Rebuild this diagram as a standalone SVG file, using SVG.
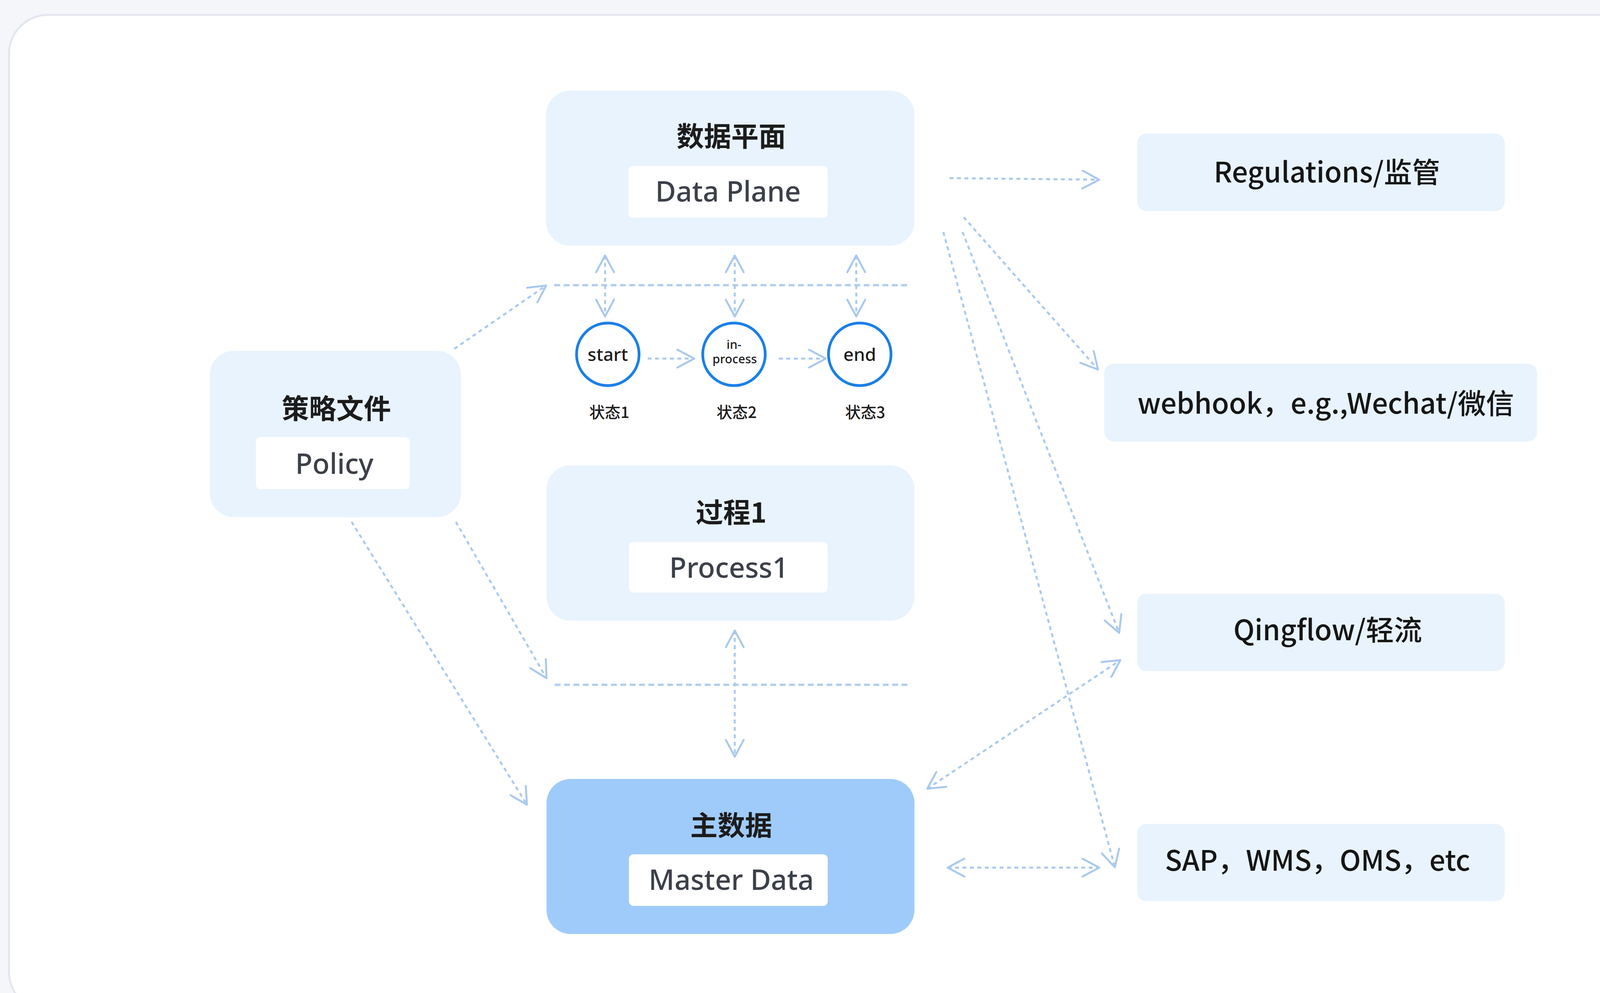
<svg xmlns="http://www.w3.org/2000/svg" width="4447" height="2542" viewBox="0 0 4447 2542">
<style>
.bg{fill:#f4f6fa}
.card{fill:#ffffff;stroke:#e3e6ee;stroke-width:5}
.box{fill:#e8f3fe}
.boxm{fill:#9fcbfb}
.inner{fill:#ffffff}
.title{font-family:"Noto Sans CJK SC","Noto Sans",sans-serif;font-weight:700;font-size:70px;fill:#1c1c1c;text-anchor:middle;dominant-baseline:central}
.lab{font-family:"Noto Sans","Open Sans","Noto Sans CJK SC",sans-serif;font-weight:500;font-size:72px;fill:#3c4049;text-anchor:middle}
.rt{font-family:"Noto Sans CJK SC","Noto Sans",sans-serif;font-weight:500;font-size:72px;fill:#161616;text-anchor:middle}
.st{fill:#ffffff;stroke:#1a7fe8;stroke-width:7}
.stt{font-family:"Noto Sans","Open Sans",sans-serif;font-weight:500;fill:#1c1c1c;text-anchor:middle}
.sl{font-family:"Noto Sans CJK SC","Noto Sans",sans-serif;font-weight:500;font-size:40px;fill:#1c1c1c;text-anchor:middle;dominant-baseline:central}
.sep{fill:none;stroke:#b3cff0;stroke-width:6;stroke-dasharray:15 9}
.con{fill:none;stroke:#a9c9ee;stroke-width:5;stroke-dasharray:10 9;marker-end:url(#ah)}
.bi{marker-start:url(#ah)}
</style>
<defs>
<marker id="ah" viewBox="0 0 50 50" refX="47" refY="25" markerWidth="50" markerHeight="50" markerUnits="userSpaceOnUse" orient="auto-start-reverse">
<path d="M4,2 L47,25 L4,48" fill="none" stroke="#a9c9ee" stroke-width="5" stroke-dasharray="none" stroke-linecap="round" stroke-linejoin="round"/>
</marker>
</defs>
<rect class="bg" x="0" y="0" width="4447" height="2542"/>
<rect class="card" x="23" y="38" width="4445" height="2550" rx="100"/>

<g id="separators">
<line class="sep" x1="1419" y1="730" x2="2325" y2="730"/>
<line class="sep" x1="1420" y1="1753" x2="2328" y2="1753"/>
</g>

<g id="connectors">
<line class="con" x1="1163" y1="893" x2="1398" y2="731"/>
<line class="con" x1="1167" y1="1336" x2="1399" y2="1736"/>
<line class="con" x1="900" y1="1336" x2="1349" y2="2060"/>
<line class="con bi" x1="1549" y1="654" x2="1549" y2="810"/>
<line class="con bi" x1="1881" y1="654" x2="1881" y2="810"/>
<line class="con bi" x1="2192" y1="654" x2="2192" y2="810"/>
<line class="con" x1="1658" y1="918" x2="1777" y2="918"/>
<line class="con" x1="1994" y1="918" x2="2114" y2="918"/>
<line class="con bi" x1="1881" y1="1614" x2="1881" y2="1937"/>
<line class="con" x1="2431" y1="456" x2="2814" y2="460"/>
<line class="con" x1="2467" y1="556" x2="2811" y2="946"/>
<line class="con" x1="2464" y1="594" x2="2865" y2="1620"/>
<line class="con" x1="2415" y1="594" x2="2854" y2="2220"/>
<line class="con bi" x1="2374" y1="2019" x2="2868" y2="1690"/>
<line class="con bi" x1="2426" y1="2221" x2="2814" y2="2221"/>
</g>

<g id="data-plane">
<rect class="box" x="1398" y="232" width="943" height="397" rx="62"/>
<text class="title" x="1872" y="344">数据平面</text>
<rect class="inner" x="1609" y="425" width="510" height="132" rx="12"/>
<text class="lab" x="1864" y="516">Data Plane</text>
</g>

<g id="policy">
<rect class="box" x="537" y="898" width="643" height="426" rx="62"/>
<text class="title" x="861" y="1041">策略文件</text>
<rect class="inner" x="655" y="1119" width="394" height="133" rx="12"/>
<text class="lab" x="856" y="1213">Policy</text>
</g>

<g id="state1">
<circle class="st" cx="1556" cy="907" r="80"/>
<text class="stt" x="1556" y="924" font-size="46">start</text>
<text class="sl" x="1560" y="1053">状态1</text>
</g>
<g id="state2">
<circle class="st" cx="1879" cy="907" r="80"/>
<text class="stt" x="1879" y="893" font-size="31">in-</text>
<text class="stt" x="1881" y="930" font-size="31">process</text>
<text class="sl" x="1886" y="1053">状态2</text>
</g>
<g id="state3">
<circle class="st" cx="2201" cy="907" r="80"/>
<text class="stt" x="2201" y="924" font-size="46">end</text>
<text class="sl" x="2215" y="1053">状态3</text>
</g>

<g id="process1">
<rect class="box" x="1399" y="1191" width="942" height="398" rx="62"/>
<text class="title" x="1872" y="1307">过程1</text>
<rect class="inner" x="1610" y="1388" width="509" height="129" rx="12"/>
<text class="lab" x="1866" y="1479">Process1</text>
</g>

<g id="master-data">
<rect class="boxm" x="1399" y="1994" width="942" height="397" rx="62"/>
<text class="title" x="1872" y="2108">主数据</text>
<rect class="inner" x="1610" y="2187" width="509" height="132" rx="12"/>
<text class="lab" x="1872" y="2278">Master Data</text>
</g>

<g id="regulations">
<rect class="box" x="2911" y="342" width="941" height="198" rx="24"/>
<text class="rt" x="3397" y="467">Regulations/监管</text>
</g>
<g id="webhook">
<rect class="box" x="2827" y="931" width="1108" height="199" rx="24"/>
<text class="rt" x="3394" y="1059">webhook，e.g.,Wechat/微信</text>
</g>
<g id="qingflow">
<rect class="box" x="2911" y="1520" width="941" height="198" rx="24"/>
<text class="rt" x="3399" y="1639">Qingflow/轻流</text>
</g>
<g id="sap">
<rect class="box" x="2911" y="2109" width="941" height="198" rx="24"/>
<text class="rt" x="3373" y="2229">SAP，WMS，OMS，etc</text>
</g>
</svg>
